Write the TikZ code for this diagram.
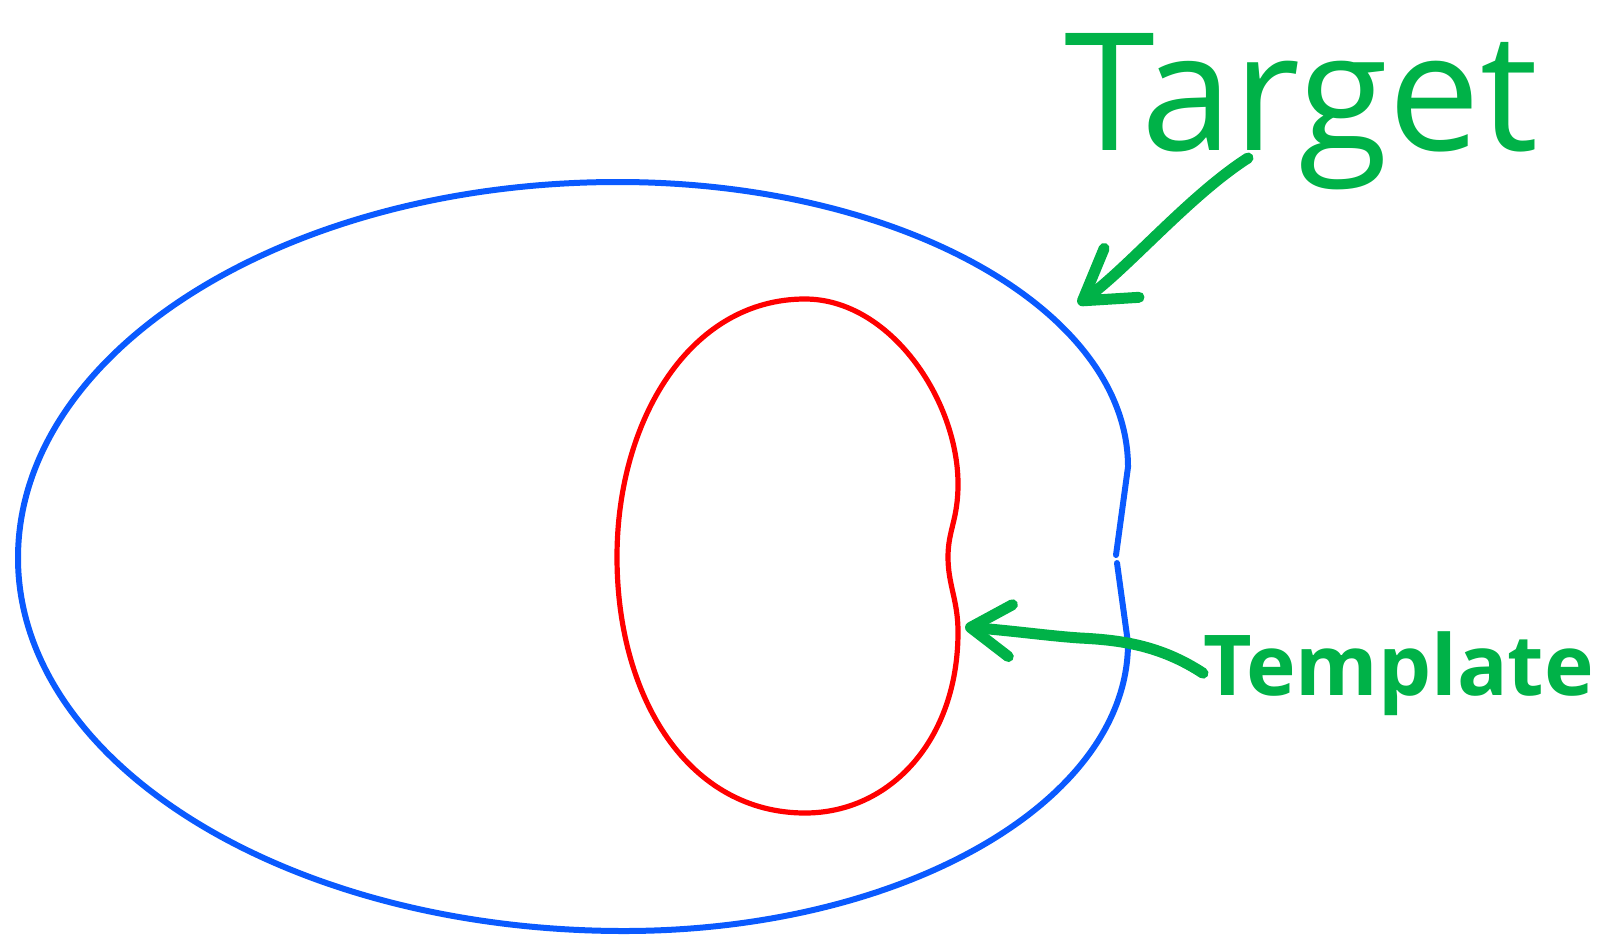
\documentclass[tikz,border=0pt]{standalone}
\usepackage{fontspec}
\newfontfamily\handfont{Open Sans}
\usetikzlibrary{arrows.meta}
\definecolor{outerblue}{RGB}{10,90,255}
\definecolor{innerred}{RGB}{255,0,0}
\definecolor{penGreen}{RGB}{0,178,72}
\tikzset{
  outerline/.style={draw=outerblue, line width=3pt, line cap=round, line join=round},
  innerline/.style={draw=innerred, line width=2.6pt, line cap=round, line join=round},
  pointer/.style={draw=penGreen, line width=5.5pt, line cap=round, line join=round},
  label/.style={text=penGreen, inner sep=0pt, font=\handfont}
}
\begin{document}
\begin{tikzpicture}[x=0.5pt, y=-0.5pt]
\useasboundingbox (0,0) rectangle (1598,937);
% outer (target) contour
\draw[outerline] (1117,563) -- (1128,643)
  .. controls (1128,802) and (902,931) .. (624,931)
  .. controls (289,931) and (18,764) .. (18,558)
  .. controls (18,350) and (287,182) .. (618,182)
  .. controls (900,182) and (1128,310) .. (1128,467)
  -- (1116,555);
% inner (template) contour
\draw[innerline] (805,299)
  .. controls (890,299) and (958,400) .. (958,484)
  .. controls (958,520) and (948,530) .. (948,557)
  .. controls (948,585) and (958,600) .. (958,632)
  .. controls (958,740) and (890,813) .. (805,813)
  .. controls (690,813) and (617,700) .. (617,557)
  .. controls (617,420) and (690,299) .. (805,299) -- cycle;
% labels
\node[label, anchor=base west, font=\handfont\fontsize{82}{86}\selectfont] (target) at (1064,150) {Target};
\node[label, anchor=base west, font=\handfont\bfseries\fontsize{42}{46}\selectfont] (template) at (1203,695) {Template};
\coordinate (targetTail) at (1248,158);
\coordinate (targetTip) at (1078,304);
\coordinate (templateTip) at (965,627);
% pointers
\draw[pointer, -{Straight Barb[length=24pt, width=30pt, round]}] (targetTail)
  .. controls (1190,195) and (1127,269) .. (targetTip);
\draw[pointer, -{Straight Barb[length=20pt, width=26pt, round]}] (template.west)
  .. controls (1160,645) and (1120,640) .. (1080,638)
  .. controls (1050,636) and (1015,631) .. (templateTip);
\end{tikzpicture}
\end{document}
